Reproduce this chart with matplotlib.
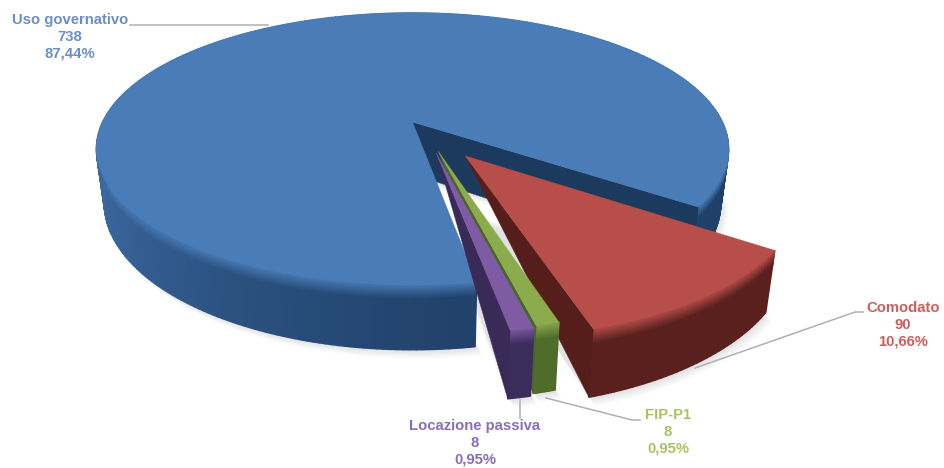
import numpy as np
import matplotlib
matplotlib.use('Agg')
import matplotlib.pyplot as plt
from matplotlib.collections import PolyCollection
from matplotlib.colors import to_rgb

names = ['Uso governativo', 'Comodato', 'FIP-P1', 'Locazione passiva']
values = [738, 90, 8, 8]
percents = ['87,44%', '10,66%', '0,95%', '0,95%']

face_cols = ['#4a7cb8', '#b84e4a', '#8cab4c', '#7f5ba3']
wall_cols = ['#1c3a5e', '#561e1b', '#4a6528', '#392a58']
text_cols = ['#6c8ec6', '#cb5f5e', '#a8c264', '#8a6db8']

# perspective view of the disc, in pixels
cx, cy = 412.5, 122
rx, ry, persp = 313, 132, 0.2
depth, converge = 52, 0.025
radius = 0.99
start = 80.4
explode = [(0, 0), (0.160, 0.244), (0.079, 0.214), (0.072, 0.224)]


def project(u, v, z=0.0):
    s = 1 / (1 - persp * v)
    return cx + rx * u * s * (1 - converge * z), cy + ry * v * s + depth * z * s


def blend(a, b, t):
    a, b = np.array(to_rgb(a)), np.array(to_rgb(b))
    return tuple(a + (b - a) * t)


def side_colour(i, ang):
    # the blue side goes darker towards the front
    if i == 0:
        a = ang % 360
        stops = [0, 40, 85, 120, 150, 185, 360]
        shade = [0.0, 0.0, 0.05, 0.35, 0.7, 0.85, 0.0]
        return blend('#1f4068', '#4272ad', np.interp(a, stops, shade))
    return to_rgb({1: '#5a201d', 2: '#4f6c2b', 3: '#3c2c5c'}[i])


def rim(th, r, off, z=0.0):
    u = r * np.cos(np.radians(th)) + off[0]
    v = r * np.sin(np.radians(th)) + off[1]
    return np.column_stack(project(u, v, z))


fig = plt.figure(figsize=(9.45, 4.68), dpi=100)
ax = fig.add_axes([0, 0, 1, 1])
ax.set_xlim(0, 945)
ax.set_ylim(468, 0)
ax.axis('off')

edges = start + np.cumsum([0] + values) / sum(values) * 360

# soft shadow under the slices
for i in range(4):
    th = np.linspace(edges[i], edges[i + 1], 120)
    base = np.vstack([project(explode[i][0], explode[i][1], 1.0), rim(th, radius, explode[i], 1.0)])
    for k in range(1, 11):
        ax.fill(base[:, 0] + k * 0.7, base[:, 1] + k * 0.9, color='k', alpha=0.012, lw=0, zorder=1)

z_levels = np.r_[np.linspace(0, 0.24, 9), 1.0]

for i in range(4):
    off = explode[i]
    z0 = 2 + i * 2
    steps = max(int(edges[i + 1] - edges[i]), 4)
    th = np.linspace(edges[i], edges[i + 1], steps + 1)

    # outer side, with a soft bevel at the top
    polys, cols = [], []
    for a, b in zip(th[:-1], th[1:]):
        for zt, zb in zip(z_levels[:-1], z_levels[1:]):
            pa = rim(np.array([a, b]), radius, off, zt)
            pb = rim(np.array([b, a]), radius, off, zb)
            polys.append(np.vstack([pa, pb]))
            cols.append(blend(face_cols[i], side_colour(i, (a + b) / 2), min(1, (zt + 0.03) / 0.24)))
    ax.add_collection(PolyCollection(polys, facecolors=cols, edgecolors=cols, linewidths=1.0, zorder=z0))

    # wall that faces the viewer
    top_c = project(off[0], off[1], 0.0)
    bot_c = project(off[0], off[1], 1.0)
    end_t = rim(np.array([edges[i + 1]]), radius, off, 0.0)[0]
    end_b = rim(np.array([edges[i + 1]]), radius, off, 1.0)[0]
    if i == 0:
        wx = [top_c[0], end_t[0], end_b[0], bot_c[0]]
        wy = [top_c[1], end_t[1], end_b[1], bot_c[1]]
    else:
        # the exploded slices show the wall as a plain triangle
        wx = [top_c[0], end_t[0], end_b[0]]
        wy = [top_c[1], end_t[1], end_b[1]]
    ax.fill(wx, wy, color=wall_cols[i], lw=0.3, zorder=z0)

    # top face
    pts = np.vstack([top_c, rim(th, radius, off)])
    ax.fill(pts[:, 0], pts[:, 1], color=face_cols[i], lw=0.3, zorder=z0 + 1)

# leader lines
leaders_x = [[130, 268], [695, 855, 863], [546, 632, 640], [520, 520]]
leaders_y = [[25, 25], [368, 312, 312], [398, 420, 420], [400, 418]]
for lx, ly in zip(leaders_x, leaders_y):
    ax.plot(lx, ly, color='#b0b0b0', lw=1.1, zorder=12)

# labels
label_x = [70, 903, 668, 475]
label_y = [20, 308, 415, 426]
for i in range(4):
    lines = [names[i], str(values[i]), percents[i]]
    for n, txt in enumerate(lines):
        ax.text(label_x[i], label_y[i] + n * 16.6, txt, color=text_cols[i], ha='center', va='center',
                fontsize=10.7, fontweight='bold', family='Liberation Sans', zorder=13)

fig.savefig('out.png', dpi=100, facecolor='white')
